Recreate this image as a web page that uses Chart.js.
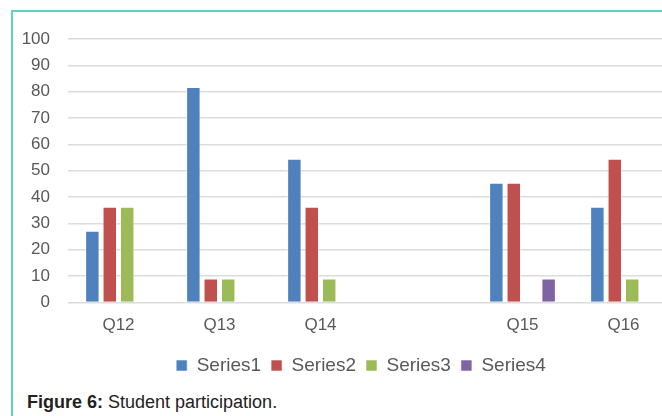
<!DOCTYPE html>
<html>
<head>
<meta charset="utf-8">
<script src="https://cdn.jsdelivr.net/npm/chart.js@4/dist/chart.umd.min.js"></script>
<style>
  html, body { margin: 0; padding: 0; background: #fff; overflow: hidden; }
  body { width: 662px; height: 416px; position: relative; }
  .frame {
    position: absolute; left: 11px; top: 10px;
    width: 720px; height: 460px;
    border: 2px solid #5fd0c2;
  }
  .chart-box { position: absolute; left: 0; top: 0; width: 722px; height: 385px; }
  .caption {
    position: absolute; left: 27px; top: 392px;
    font-family: "Liberation Sans", Arial, sans-serif;
    font-size: 18px; color: #222;
  }
</style>
</head>
<body>
<div class="frame"></div>
<div class="chart-box"><canvas id="chart" width="722" height="385"></canvas></div>
<div class="caption"><b>Figure 6:</b> Student participation.</div>
<script>
const categories = ["Q12", "Q13", "Q14", "", "Q15", "Q16"];
const series1 = [27.27, 81.82, 54.55, null, 45.45, 36.36];
const series2 = [36.36, 9.09, 36.36, null, 45.45, 54.55];
const series3 = [36.36, 9.09, 9.09, null, 0, 9.09];
const series4 = [0, 0, 0, null, 9.09, 0];
const yTicks = [0, 10, 20, 30, 40, 50, 60, 70, 80, 90, 100];

const font = "'Liberation Sans', Arial, sans-serif";

function bars(label, data, color) {
  return {
    label: label,
    data: data,
    backgroundColor: color,
    borderColor: "rgba(255,255,255,0.55)",
    borderWidth: 1,
    categoryPercentage: 0.69,
    barPercentage: 0.83,
  };
}

new Chart(document.getElementById("chart"), {
  type: "bar",
  data: {
    labels: categories,
    datasets: [
      bars("Series1", series1, "#4f81bd"),
      bars("Series2", series2, "#c0504d"),
      bars("Series3", series3, "#9bbb59"),
      bars("Series4", series4, "#8064a2"),
    ],
  },
  options: {
    responsive: false,
    animation: false,
    layout: { padding: { left: 0, right: 0, top: 39, bottom: 0 } },
    plugins: {
      tooltip: { enabled: false },
      legend: {
        position: "bottom",
        labels: {
          boxWidth: 11,
          boxHeight: 11,
          padding: 10,
          color: "#595959",
          font: { family: font, size: 19 },
        },
      },
    },
    scales: {
      x: {
        grid: { display: false, drawTicks: false },
        border: { display: false },
        ticks: {
          color: "#595959",
          padding: 13,
          maxRotation: 0,
          font: { family: font, size: 17 },
        },
        afterFit: (scale) => { scale.height = 43.5; },
      },
      y: {
        min: 0,
        max: 100,
        afterBuildTicks: (scale) => {
          scale.ticks = yTicks.map((v) => ({ value: v }));
        },
        afterFit: (scale) => { scale.width = 68; },
        grid: { color: "#dcdcdc", lineWidth: 1.5, drawTicks: false },
        border: { display: false },
        ticks: {
          color: "#595959",
          padding: 18,
          font: { family: font, size: 17 },
        },
      },
      // blank space right of the plot (the original chart was cropped there)
      yRight: {
        position: "right",
        grid: { display: false },
        border: { display: false },
        ticks: { display: false },
        afterFit: (scale) => { scale.width = 48; },
      },
    },
  },
});
</script>
</body>
</html>
